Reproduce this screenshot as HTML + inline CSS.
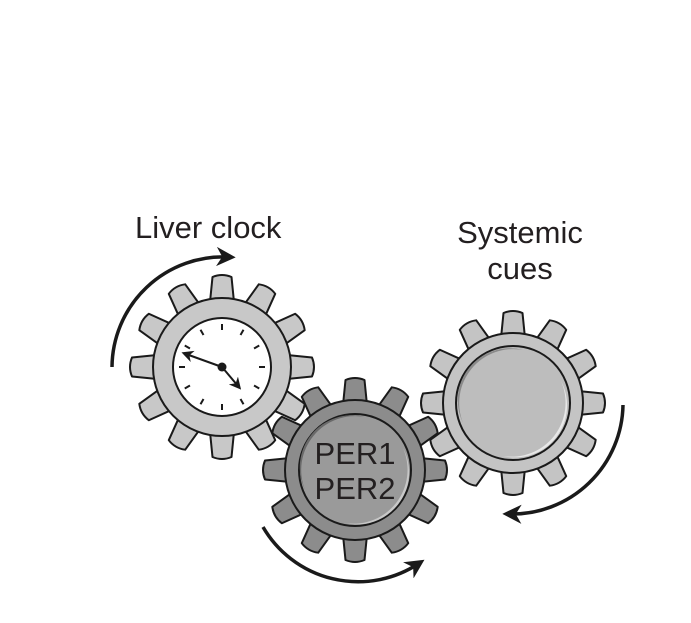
<!DOCTYPE html>
<html><head><meta charset="utf-8"><style>
html,body{margin:0;padding:0;background:#fff;}
svg{display:block;}
text{font-family:"Liberation Sans",Arial,sans-serif;fill:#231f20;}
</style></head><body>
<svg width="691" height="623" viewBox="0 0 691 623" xmlns="http://www.w3.org/2000/svg">
<defs>
  <marker id="ah" viewBox="0 0 10 10" refX="6" refY="5" markerWidth="5.5" markerHeight="5.5" orient="auto" markerUnits="strokeWidth">
    <path d="M0,0 L10,5 L0,10 L3,5 Z" fill="#1a1a1a"/>
  </marker>
  <marker id="ah2" viewBox="0 0 10 10" refX="6" refY="5" markerWidth="6" markerHeight="6" orient="auto" markerUnits="strokeWidth">
    <path d="M0,0 L10,5 L0,10 L3,5 Z" fill="#1a1a1a"/>
  </marker>
  <path id="tooth" d="M-12.5,-60 L-9.5,-90 Q0,-94 9.5,-90 L12.5,-60 Z" stroke="#1a1a1a" stroke-width="2" stroke-linejoin="round"/>
</defs>

<text x="135" y="238" font-size="31">Liver clock</text>
<text x="520" y="243" font-size="31" text-anchor="middle">Systemic</text>
<text x="520" y="279" font-size="31" text-anchor="middle">cues</text>

<!-- Systemic gear -->
<g transform="translate(513,403)" fill="#c4c4c4">
  <use href="#tooth" transform="rotate(0)"/><use href="#tooth" transform="rotate(30)"/><use href="#tooth" transform="rotate(60)"/><use href="#tooth" transform="rotate(90)"/><use href="#tooth" transform="rotate(120)"/><use href="#tooth" transform="rotate(150)"/><use href="#tooth" transform="rotate(180)"/><use href="#tooth" transform="rotate(210)"/><use href="#tooth" transform="rotate(240)"/><use href="#tooth" transform="rotate(270)"/><use href="#tooth" transform="rotate(300)"/><use href="#tooth" transform="rotate(330)"/>
  <circle r="70" fill="#c4c4c4" stroke="#1a1a1a" stroke-width="2"/>
  <circle r="57" fill="#bdbdbd" stroke="#1a1a1a" stroke-width="2"/>
  <path d="M-50,20 A54,54 0 0 1 10,-53 A52,52 0 0 0 -50,20 Z" fill="#8a8a8a"/>
  <path d="M48,-22 A54,54 0 0 1 -10,53 A52,52 0 0 0 48,-22 Z" fill="#e8e8e8"/>
</g>

<!-- Liver gear -->
<g transform="translate(222,367)" fill="#c8c8c8">
  <use href="#tooth" transform="rotate(0)"/><use href="#tooth" transform="rotate(30)"/><use href="#tooth" transform="rotate(60)"/><use href="#tooth" transform="rotate(90)"/><use href="#tooth" transform="rotate(120)"/><use href="#tooth" transform="rotate(150)"/><use href="#tooth" transform="rotate(180)"/><use href="#tooth" transform="rotate(210)"/><use href="#tooth" transform="rotate(240)"/><use href="#tooth" transform="rotate(270)"/><use href="#tooth" transform="rotate(300)"/><use href="#tooth" transform="rotate(330)"/>
  <circle r="69" fill="#c8c8c8" stroke="#1a1a1a" stroke-width="2"/>
  <circle r="49" fill="#fff" stroke="#1a1a1a" stroke-width="2"/>
  <g stroke="#1a1a1a" stroke-width="2">
    <line x1="0" y1="-37" x2="0" y2="-43"/><line x1="0" y1="-37" x2="0" y2="-43" transform="rotate(30)"/><line x1="0" y1="-37" x2="0" y2="-43" transform="rotate(60)"/><line x1="0" y1="-37" x2="0" y2="-43" transform="rotate(90)"/><line x1="0" y1="-37" x2="0" y2="-43" transform="rotate(120)"/><line x1="0" y1="-37" x2="0" y2="-43" transform="rotate(150)"/><line x1="0" y1="-37" x2="0" y2="-43" transform="rotate(180)"/><line x1="0" y1="-37" x2="0" y2="-43" transform="rotate(210)"/><line x1="0" y1="-37" x2="0" y2="-43" transform="rotate(240)"/><line x1="0" y1="-37" x2="0" y2="-43" transform="rotate(270)"/><line x1="0" y1="-37" x2="0" y2="-43" transform="rotate(300)"/><line x1="0" y1="-37" x2="0" y2="-43" transform="rotate(330)"/>
    <line x1="0" y1="0" x2="-36" y2="-13" marker-end="url(#ah2)"/>
    <line x1="0" y1="0" x2="16" y2="19" marker-end="url(#ah2)"/>
  </g>
  <circle r="4.5" fill="#1a1a1a"/>
</g>

<!-- PER gear -->
<g transform="translate(355,470)" fill="#8c8c8c">
  <use href="#tooth" transform="rotate(0)"/><use href="#tooth" transform="rotate(30)"/><use href="#tooth" transform="rotate(60)"/><use href="#tooth" transform="rotate(90)"/><use href="#tooth" transform="rotate(120)"/><use href="#tooth" transform="rotate(150)"/><use href="#tooth" transform="rotate(180)"/><use href="#tooth" transform="rotate(210)"/><use href="#tooth" transform="rotate(240)"/><use href="#tooth" transform="rotate(270)"/><use href="#tooth" transform="rotate(300)"/><use href="#tooth" transform="rotate(330)"/>
  <circle r="70" fill="#8c8c8c" stroke="#1a1a1a" stroke-width="2"/>
  <circle r="56" fill="#9a9a9a" stroke="#1a1a1a" stroke-width="2"/>
  <path d="M-50,20 A54,54 0 0 1 10,-53 A52,52 0 0 0 -50,20 Z" fill="#6a6a6a"/>
  <path d="M48,-22 A54,54 0 0 1 -10,53 A52,52 0 0 0 48,-22 Z" fill="#c8c8c8"/>
  <text x="0" y="-6" font-size="31" text-anchor="middle">PER1</text>
  <text x="0" y="29" font-size="31" text-anchor="middle">PER2</text>
</g>

<!-- rotation arrows -->
<g fill="none" stroke="#1a1a1a" stroke-width="3.5">
  <path d="M112,367 A111,111 0 0 1 228,257" marker-end="url(#ah)"/>
  <path d="M263,527 A110,110 0 0 0 418,564" marker-end="url(#ah)"/>
  <path d="M623,405 A111,111 0 0 1 510,514" marker-end="url(#ah)"/>
</g>
</svg>
</body></html>
